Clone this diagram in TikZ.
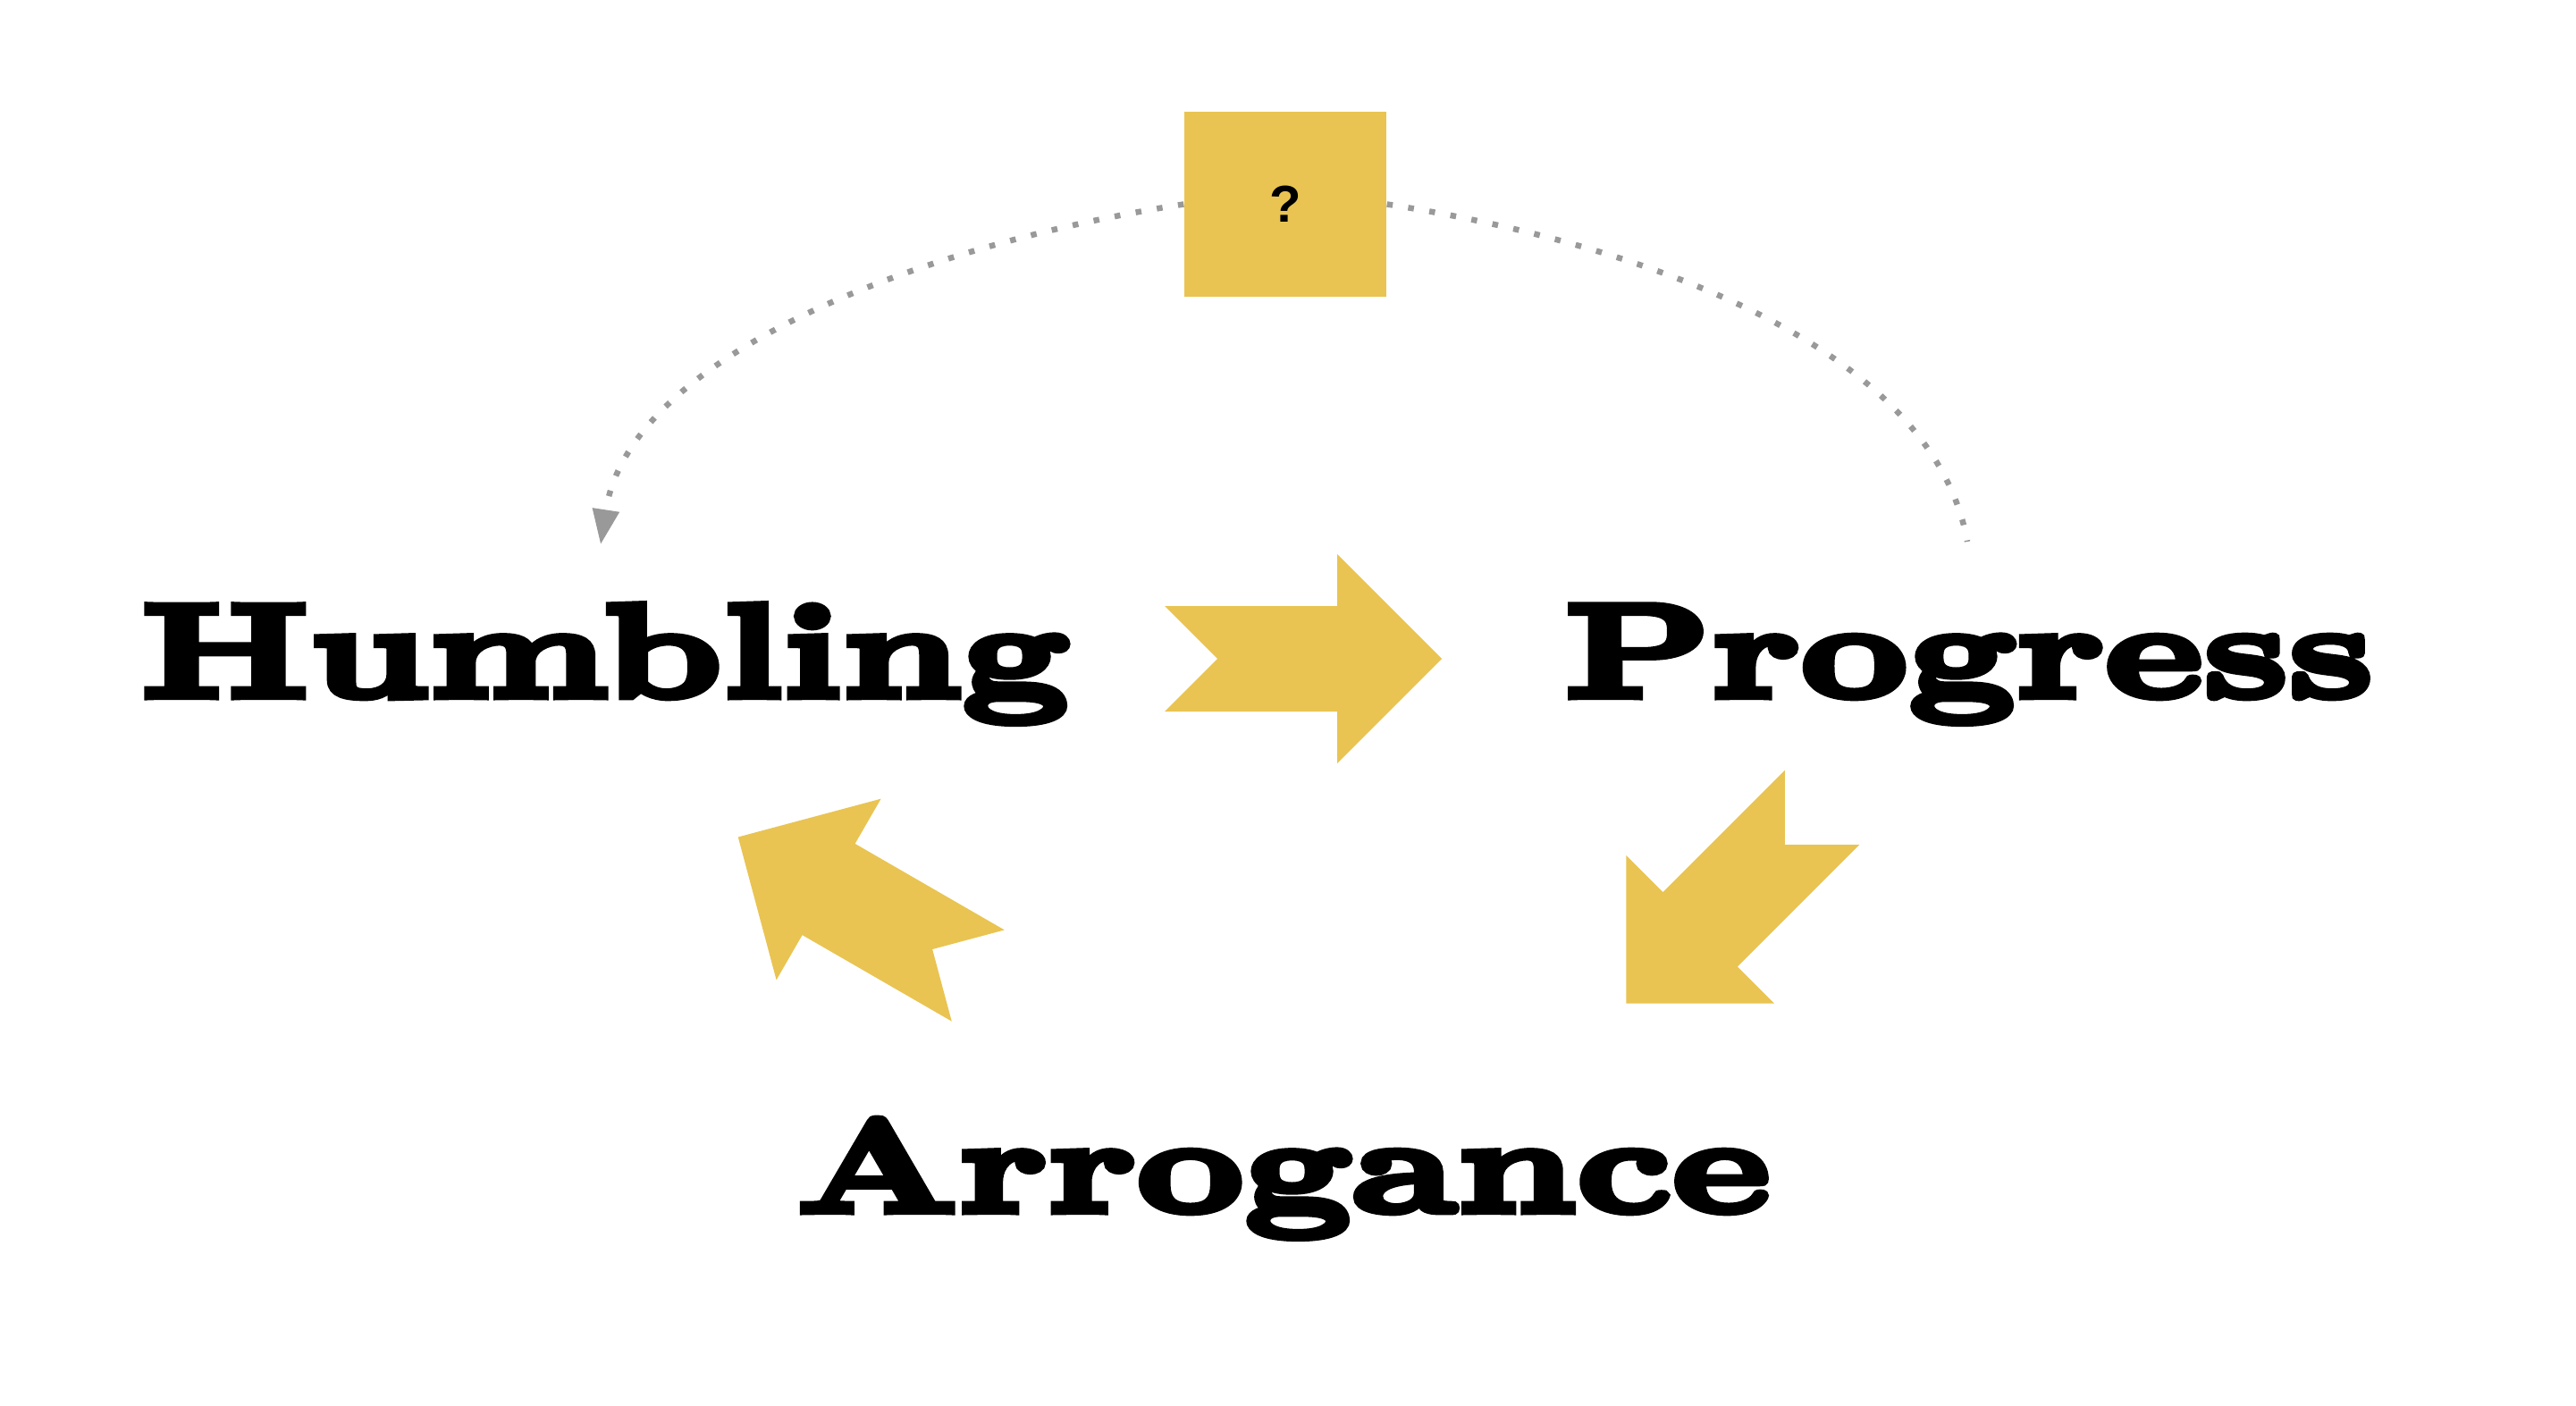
\documentclass[tikz,border=0pt]{standalone}
\usepackage{fontspec}
\newfontfamily\posterfont{lmroman10-bold}[Extension=.otf,FakeBold=6,FakeStretch=1.42]
\newfontfamily\markfont{Liberation Sans}
\usetikzlibrary{arrows.meta}
\definecolor{mustard}{HTML}{E9C452}
\definecolor{dotgray}{HTML}{999999}

\tikzset{
  cycleword/.style={anchor=base,inner sep=0pt,text=black,
    font=\posterfont\fontsize{42}{42}\selectfont},
  hintline/.style={dotgray,line width=0.065cm,dash pattern=on 0.065cm off 0.175cm},
  cyclearrow/.pic={
    \fill[mustard] (-1.55,0.59) -- (0.38,0.59) -- (0.38,1.17) -- (1.55,0)
      -- (0.38,-1.17) -- (0.38,-0.59) -- (-1.55,-0.59) -- (-0.96,0) -- cycle;
  }
}

\begin{document}
\begin{tikzpicture}
  \useasboundingbox[fill=white] (0,0) rectangle (28.82,15.72);

  % The three stages of the cycle.
  \node[cycleword] (humbling) at (6.77,7.93) {Humbling};
  \node[cycleword] (progress) at (22.03,7.93) {Progress};
  \node[cycleword] (arrogance) at (14.36,2.17) {Arrogance};

  % Big arrows between the stages.
  \pic at (14.58,8.35) {cyclearrow};
  \pic[rotate=225] at (19.29,5.59) {cyclearrow};
  \pic[rotate=150] at (9.60,5.58) {cyclearrow};

  % The unknown step above.
  \node[fill=mustard,minimum width=2.26cm,minimum height=2.07cm,inner sep=0pt,
    font=\markfont\bfseries\fontsize{16.5}{16.5}\selectfont] (query) at (14.38,13.435) {?};

  \coordinate (humblinghook) at (6.72,9.63);
  \coordinate (progresshook) at (22.01,9.66);
  \draw[hintline,-{Triangle[length=3.9mm,width=2.9mm,sep=0pt]}]
    (query.west) .. controls (10.25,12.97) and (7.04,11.73) .. (humblinghook);
  \draw[hintline] (query.east) .. controls (18.51,12.97) and (21.63,11.79) .. (progresshook);
\end{tikzpicture}
\end{document}
